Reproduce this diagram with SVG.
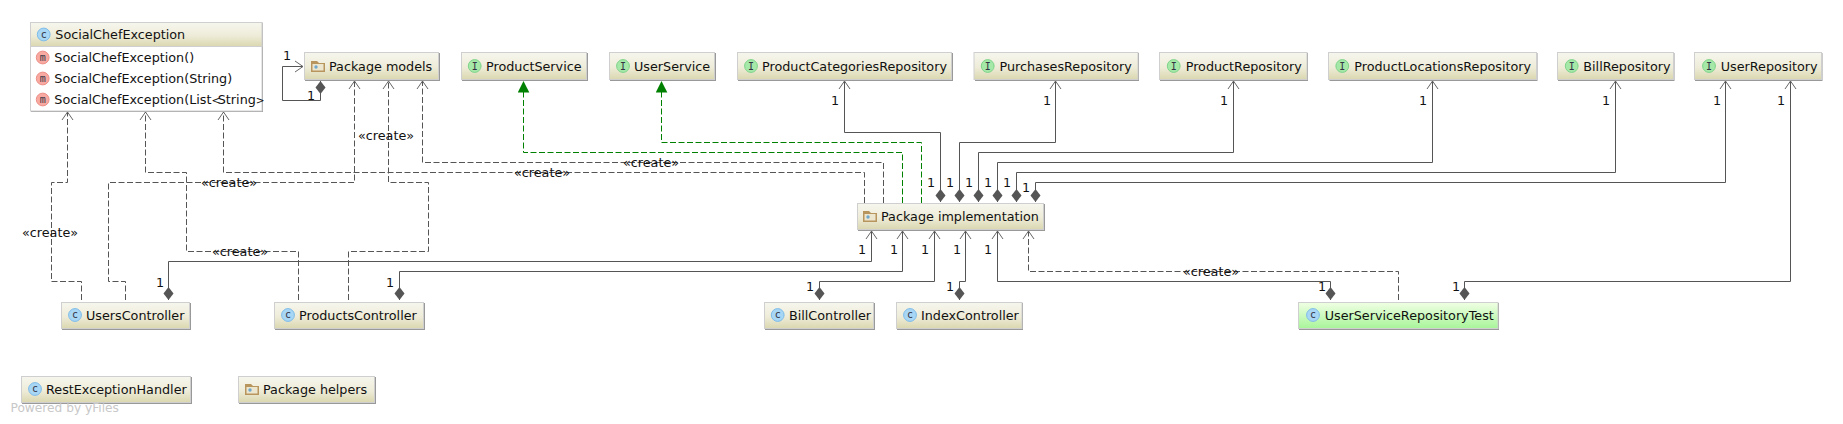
<svg xmlns="http://www.w3.org/2000/svg" width="1843" height="424" viewBox="0 0 1843 424">
<style>
text{font-family:"DejaVu Sans",sans-serif;font-size:12.75px;fill:#111}
.s{fill:#999}
.n{fill:url(#tan);stroke:#cfcfcf;stroke-width:1}
.t{fill:url(#grn);stroke:#cfcfcf;stroke-width:1}
.b{fill:#fff;stroke:#cfcfcf;stroke-width:1}
.c{fill:#a8d6f5;stroke:#7fbce8;stroke-width:1}
.i{fill:#a5e8a8;stroke:#7fd48a;stroke-width:1}
.m{fill:#f8aaa2;stroke:#ec9088;stroke-width:1}
.g{font-family:"DejaVu Sans Mono",monospace;font-size:10px;fill:#334;text-anchor:middle}
.fb{fill:#b8955c}
.fw{fill:#ece6cf}
.fd{fill:#6fa8cc}
path{fill:none}
.sol{stroke:#555;stroke-width:1;marker-end:url(#open);marker-start:url(#dia)}
.dash{stroke:#555;stroke-width:1;stroke-dasharray:6 2.5;marker-end:url(#open)}
.real{stroke:#008000;stroke-width:1;stroke-dasharray:6 2.5;marker-end:url(#tri)}
.l{text-anchor:middle}
.wm{fill:#c8c8c8;font-size:12.2px}
.a{font-size:10.5px;letter-spacing:-2.5px}
</style>
<defs>
<linearGradient id="tan" x1="0" y1="0" x2="0" y2="1"><stop offset="0" stop-color="#f6f6ee"/><stop offset="0.55" stop-color="#eeecd8"/><stop offset="1" stop-color="#dad7b0"/></linearGradient>
<linearGradient id="grn" x1="0" y1="0" x2="0" y2="1"><stop offset="0" stop-color="#f0ffe4"/><stop offset="1" stop-color="#a8f59a"/></linearGradient>
<marker id="open" markerUnits="userSpaceOnUse" markerWidth="14" markerHeight="16" viewBox="-11 -8 12 16" refX="0" refY="0" orient="auto"><path d="M-8,-5.5L0,0L-8,5.5" stroke="#666" stroke-width="1" fill="none"/></marker>
<marker id="dia" markerUnits="userSpaceOnUse" markerWidth="14" markerHeight="11" viewBox="0 -5.5 14 11" refX="0" refY="0" orient="auto"><path d="M0,0L6.5,-5L13,0L6.5,5Z" style="fill:#555"/></marker>
<marker id="tri" markerUnits="userSpaceOnUse" markerWidth="12" markerHeight="12" viewBox="-11.5 -6 11.5 12" refX="0" refY="0" orient="auto"><path d="M0,0L-11.5,-5.8L-11.5,5.8Z" style="fill:#008000"/></marker>
</defs>
<g id="connectors">
<path class="sol" d="M320.5,81V100.5H282.5V66.5H303"/>
<path class="dash" d="M81.5,300V281.5H51.5V182.5H67.5V112"/>
<path class="dash" d="M298.5,300V251.5H186.5V172.5H145.5V112"/>
<path class="dash" d="M864.5,203V172.5H223.5V112"/>
<path class="dash" d="M125.5,300V281.5H108.5V182.5H354.5V81"/>
<path class="dash" d="M348.5,300V251.5H428.5V182.5H388.5V81"/>
<path class="dash" d="M883.5,203V162.5H422.5V81"/>
<path class="real" d="M902.5,203V152.5H523.5V81"/>
<path class="real" d="M921.5,203V142.5H661.5V81"/>
<path class="sol" d="M940.5,202V132.5H844.5V81"/>
<path class="sol" d="M959.5,202V142.5H1055.5V81"/>
<path class="sol" d="M978.5,202V152.5H1233.5V81"/>
<path class="sol" d="M997.5,202V162.5H1432.5V81"/>
<path class="sol" d="M1016.5,202V172.5H1615.5V81"/>
<path class="sol" d="M1035.5,202V182.5H1725.5V81"/>
<path class="sol" d="M168.5,300V261.5H871.5V231"/>
<path class="sol" d="M399.5,300V271.5H902.5V231"/>
<path class="sol" d="M819.5,300V281.5H934.5V231"/>
<path class="sol" d="M959.5,300V281.5H965.5V231"/>
<path class="sol" d="M1330.5,300V281.5H997.5V231"/>
<path class="sol" d="M1464.5,300V281.5H1790.5V81"/>
<path class="dash" d="M1398.5,300V271.5H1028.5V231"/>
<text class="l" x="287" y="60">1</text><text class="l" x="311" y="100">1</text>
<text class="l" x="835" y="105">1</text><text class="l" x="1047" y="105">1</text><text class="l" x="1224" y="105">1</text><text class="l" x="1423" y="105">1</text><text class="l" x="1606" y="105">1</text><text class="l" x="1717" y="105">1</text><text class="l" x="1781" y="105">1</text>
<text class="l" x="931" y="187">1</text><text class="l" x="950" y="187">1</text><text class="l" x="969" y="187">1</text><text class="l" x="988" y="187">1</text><text class="l" x="1007" y="187">1</text><text class="l" x="1026" y="192">1</text>
<text class="l" x="862" y="254">1</text><text class="l" x="894" y="254">1</text><text class="l" x="925" y="254">1</text><text class="l" x="957" y="254">1</text><text class="l" x="988" y="254">1</text>
<text class="l" x="160" y="287">1</text><text class="l" x="390" y="287">1</text><text class="l" x="810" y="291">1</text><text class="l" x="950" y="291">1</text><text class="l" x="1322" y="291">1</text><text class="l" x="1456" y="291">1</text>
<text class="l" x="386" y="140">«create»</text><text class="l" x="229" y="187">«create»</text><text class="l" x="50" y="237">«create»</text><text class="l" x="240" y="256">«create»</text><text class="l" x="651" y="167">«create»</text><text class="l" x="542" y="177">«create»</text><text class="l" x="1211" y="276">«create»</text>
</g>
<g id="SocialChefException">
<rect class="s" x="31" y="23" width="232" height="89"/><rect class="b" x="30.5" y="22.5" width="231.5" height="88.5"/><rect class="n" x="30.5" y="22.5" width="231.5" height="24"/>
<circle class="c" cx="43.7" cy="34.5" r="6.4"/><text class="g" x="43.7" y="37.5">c</text><text x="55.3" y="39">SocialChefException</text>
<circle class="m" cx="42.7" cy="57.5" r="6.4"/><text class="g" x="42.7" y="60.5">m</text><text x="54.3" y="62">SocialChefException()</text>
<circle class="m" cx="42.7" cy="78.5" r="6.4"/><text class="g" x="42.7" y="81.5">m</text><text x="54.3" y="83">SocialChefException(String)</text>
<circle class="m" cx="42.7" cy="99.5" r="6.4"/><text class="g" x="42.7" y="102.5">m</text><text x="54.3" y="104">SocialChefException(List<tspan class="a">&lt;</tspan>String<tspan class="a">&gt;</tspan></text>
</g>
<g id="PackageModels"><rect class="s" x="305" y="53" width="135" height="28"/><rect class="n" x="304.5" y="52.5" width="134" height="27"/><path class="fb" d="M311,61H317L319,63H325V72H311Z"/><rect class="fw" x="312.5" y="64" width="11" height="6.5"/><circle class="fd" cx="316" cy="67" r="1.7"/><text x="329" y="71">Package models</text></g>
<g id="ProductService"><rect class="s" x="462" y="53" width="126" height="28"/><rect class="n" x="461.5" y="52.5" width="125" height="27"/><circle class="i" cx="474.7" cy="66" r="6.4"/><text class="g" x="474.7" y="69.5">I</text><text x="486" y="71">ProductService</text></g>
<g id="UserService"><rect class="s" x="610" y="53" width="106" height="28"/><rect class="n" x="609.5" y="52.5" width="105" height="27"/><circle class="i" cx="623" cy="66" r="6.4"/><text class="g" x="623" y="69.5">I</text><text x="634" y="71">UserService</text></g>
<g id="ProductCategoriesRepository"><rect class="s" x="738" y="53" width="215" height="28"/><rect class="n" x="737.5" y="52.5" width="214" height="27"/><circle class="i" cx="751" cy="66" r="6.4"/><text class="g" x="751" y="69.5">I</text><text x="762" y="71">ProductCategoriesRepository</text></g>
<g id="PurchasesRepository"><rect class="s" x="975" y="53" width="164" height="28"/><rect class="n" x="974" y="52.5" width="164" height="27"/><circle class="i" cx="987.7" cy="66" r="6.4"/><text class="g" x="987.7" y="69.5">I</text><text x="999.5" y="71">PurchasesRepository</text></g>
<g id="ProductRepository"><rect class="s" x="1160" y="53" width="148" height="28"/><rect class="n" x="1159.5" y="52.5" width="147.5" height="27"/><circle class="i" cx="1173.7" cy="66" r="6.4"/><text class="g" x="1173.7" y="69.5">I</text><text x="1185.7" y="71">ProductRepository</text></g>
<g id="ProductLocationsRepository"><rect class="s" x="1329.5" y="53" width="208" height="28"/><rect class="n" x="1328.5" y="52.5" width="208" height="27"/><circle class="i" cx="1342.3" cy="66" r="6.4"/><text class="g" x="1342.3" y="69.5">I</text><text x="1354.3" y="71">ProductLocationsRepository</text></g>
<g id="BillRepository"><rect class="s" x="1558" y="53" width="116.5" height="28"/><rect class="n" x="1557.5" y="52.5" width="116" height="27"/><circle class="i" cx="1571.7" cy="66" r="6.4"/><text class="g" x="1571.7" y="69.5">I</text><text x="1583.3" y="71">BillRepository</text></g>
<g id="UserRepository"><rect class="s" x="1695" y="53" width="127.5" height="28"/><rect class="n" x="1694.5" y="52.5" width="127" height="27"/><circle class="i" cx="1709" cy="66" r="6.4"/><text class="g" x="1709" y="69.5">I</text><text x="1720.7" y="71">UserRepository</text></g>
<g id="PackageImplementation"><rect class="s" x="858" y="204" width="187" height="27"/><rect class="n" x="857.5" y="203.5" width="186" height="26"/><path class="fb" d="M863,211H869L871,213H877V222H863Z"/><rect class="fw" x="864.5" y="214" width="11" height="6.5"/><circle class="fd" cx="868" cy="217" r="1.7"/><text x="881" y="221">Package implementation</text></g>
<g id="UsersController"><rect class="s" x="62" y="303" width="129" height="27"/><rect class="n" x="61.5" y="302.5" width="128" height="26"/><circle class="c" cx="75" cy="315" r="6.4"/><text class="g" x="75" y="318">c</text><text x="86" y="320">UsersController</text></g>
<g id="ProductsController"><rect class="s" x="275" y="303" width="150" height="27"/><rect class="n" x="274.5" y="302.5" width="149" height="26"/><circle class="c" cx="288" cy="315" r="6.4"/><text class="g" x="288" y="318">c</text><text x="299" y="320">ProductsController</text></g>
<g id="BillController"><rect class="s" x="765" y="303" width="110" height="27"/><rect class="n" x="764.5" y="302.5" width="109" height="26"/><circle class="c" cx="777.7" cy="315" r="6.4"/><text class="g" x="777.7" y="318">c</text><text x="789" y="320">BillController</text></g>
<g id="IndexController"><rect class="s" x="897" y="303" width="126" height="27"/><rect class="n" x="896.5" y="302.5" width="125.5" height="26"/><circle class="c" cx="910" cy="315" r="6.4"/><text class="g" x="910" y="318">c</text><text x="921" y="320">IndexController</text></g>
<g id="UserServiceRepositoryTest"><rect class="s" x="1299" y="303" width="200" height="27"/><rect class="t" x="1298.5" y="302.5" width="199.5" height="26"/><circle class="c" cx="1313" cy="315" r="6.4"/><text class="g" x="1313" y="318">c</text><text x="1324.7" y="320">UserServiceRepositoryTest</text></g>
<g id="RestExceptionHandler"><rect class="s" x="22" y="377" width="170" height="27"/><rect class="n" x="21.5" y="376.5" width="169" height="26"/><circle class="c" cx="35" cy="389" r="6.4"/><text class="g" x="35" y="392">c</text><text x="46" y="394">RestExceptionHandler</text></g>
<g id="PackageHelpers"><rect class="s" x="239" y="377" width="137" height="27"/><rect class="n" x="238.5" y="376.5" width="136" height="26"/><path class="fb" d="M245,384H251L253,386H259V395H245Z"/><rect class="fw" x="246.5" y="387" width="11" height="6.5"/><circle class="fd" cx="250" cy="390" r="1.7"/><text x="263" y="394">Package helpers</text></g>
<text class="wm" x="10.5" y="412">Powered by yFiles</text>
</svg>
